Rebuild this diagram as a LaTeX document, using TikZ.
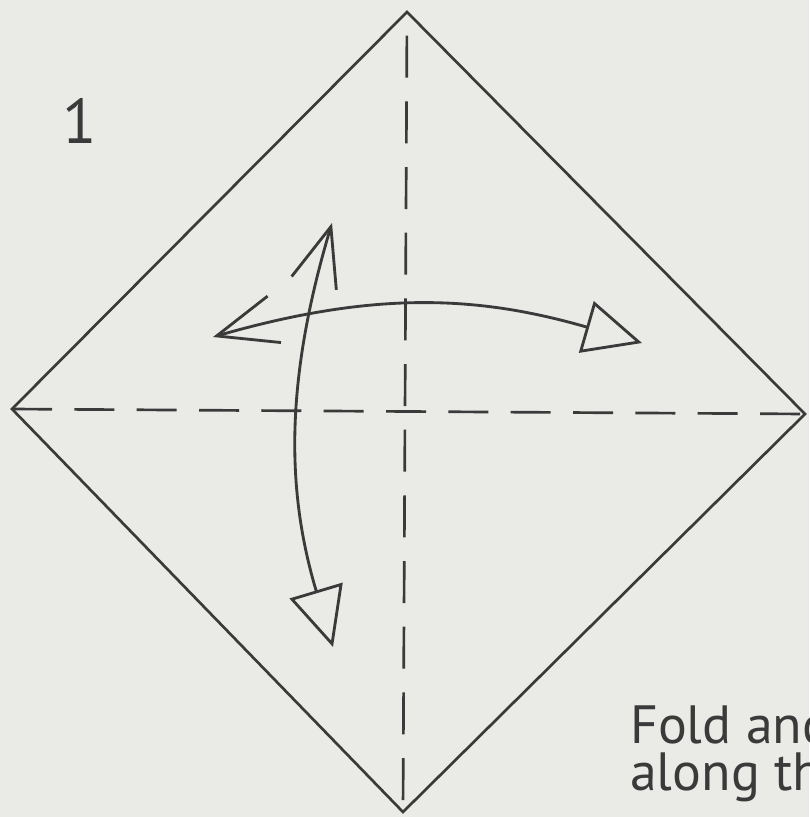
\documentclass[tikz,border=0pt]{standalone}
\usepackage{fontspec}
\setmainfont{PT Sans}
\usepackage{tikz}
\usetikzlibrary{arrows.meta}
\definecolor{paper}{RGB}{234,234,231}
\definecolor{ink}{RGB}{58,58,58}
\tikzset{
  edge/.style     ={ink,line width=0.08cm,line join=miter},
  vfold/.style    ={ink,line width=0.08cm,dash pattern=on 1.26cm off 0.71cm,dash phase=1.26cm},
  hfold/.style    ={ink,line width=0.08cm,dash pattern=on 1.2cm off 0.67cm},
  foldarrow/.style={ink,line width=0.085cm},
  steplabel/.style={ink,font=\fontsize{54}{54}\selectfont,inner sep=0pt},
  caption/.style  ={ink,font=\fontsize{46}{40}\selectfont,inner sep=0pt,align=left,anchor=base west},
}

\begin{document}
\begin{tikzpicture}[x=0.03cm,y=-0.03cm]
  \useasboundingbox (0,0) rectangle (809,817);
  \clip (0,0) rectangle (809,817);
  \fill[paper] (0,0) rectangle (809,817);
  % corners of the square
  \coordinate (top) at (407,12);
  \coordinate (left) at (12,409);
  \coordinate (right) at (805,414);
  \coordinate (bottom) at (403,812);
  \draw[vfold] (top)--(bottom);
  \draw[hfold] (left)--(right);
  \draw[edge] (top)--(right)--(bottom)--(left)--cycle;
  % fold and unfold arrows
  \coordinate (hstart) at (213,337);
  \coordinate (hend) at (642,343);
  \coordinate (vstart) at (332,223);
  \coordinate (vend) at (333,647);
  \draw[foldarrow,{Straight Barb[length=1.8cm,width=1.45cm]}-{Triangle[open,length=1.74cm,width=1.6cm]}]
    (hstart) .. controls (376,290) and (479,296) .. (hend);
  \draw[foldarrow,{Straight Barb[length=1.77cm,width=1.4cm]}-{Triangle[open,length=1.77cm,width=1.65cm]}]
    (vstart) .. controls (285,380) and (286,490) .. (vend);
  \node[steplabel] (num) at (80,121) {1};
  \node[caption] (note) at (630,790) {Fold and\\along the};
\end{tikzpicture}
\end{document}
